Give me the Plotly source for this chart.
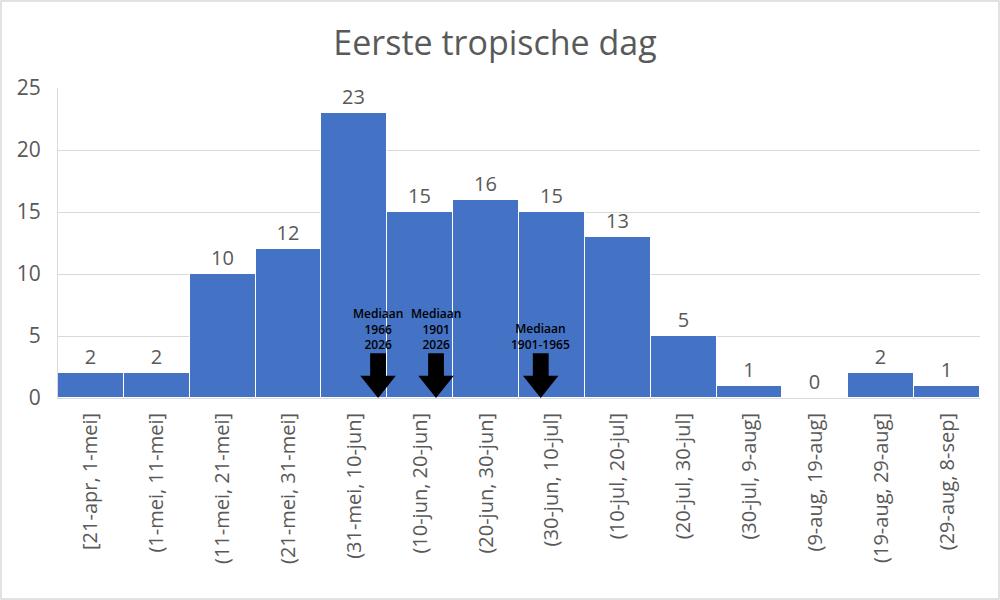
import plotly.graph_objects as go

categories = ["[21-apr, 1-mei]", "(1-mei, 11-mei]", "(11-mei, 21-mei]", "(21-mei, 31-mei]",
              "(31-mei, 10-jun]", "(10-jun, 20-jun]", "(20-jun, 30-jun]", "(30-jun, 10-jul]",
              "(10-jul, 20-jul]", "(20-jul, 30-jul]", "(30-jul, 9-aug]", "(9-aug, 19-aug]",
              "(19-aug, 29-aug]", "(29-aug, 8-sep]"]
counts = [2, 2, 10, 12, 23, 15, 16, 15, 13, 5, 1, 0, 2, 1]

median_labels = ["Mediaan<br>1966<br>2026", "Mediaan<br>1901<br>2026", "Mediaan<br>1901-1965"]
median_pos = [4.36, 5.24, 6.83]  # position in bin units

W, H = 1000, 600
L, R, T, B = 58, 20, 88, 202
pw, ph = W - L - R, H - T - B

grey = "#595959"
font = "Open Sans"

x_idx = list(range(len(categories)))

fig = go.Figure(go.Bar(
    x=x_idx, y=counts, width=1.0,
    marker=dict(color="#4472C4", line=dict(color="white", width=1)),
    text=[str(c) for c in counts], textposition="outside",
    textfont=dict(size=20, color=grey, family=font), cliponaxis=False,
))

shapes = []
annotations = []
# arrow geometry (x half-widths in bin units, y in data units)
shaft_hw, head_hw = 0.12, 0.27
shaft_top, head_top = 3.6, 1.8
for lab, p in zip(median_labels, median_pos):
    path = (f"M {p-shaft_hw},{shaft_top} L {p+shaft_hw},{shaft_top} L {p+shaft_hw},{head_top} "
            f"L {p+head_hw},{head_top} L {p},0 L {p-head_hw},{head_top} L {p-shaft_hw},{head_top} Z")
    shapes.append(dict(type="path", path=path, xref="x", yref="y",
                       fillcolor="black", line=dict(color="black", width=0)))
    annotations.append(dict(x=p, y=shaft_top, xref="x", yref="y", text=lab, showarrow=False,
                            yanchor="bottom", yshift=-2,
                            font=dict(size=12, color="black", family=font, weight=600)))

# outer border
shapes.append(dict(type="rect", xref="paper", yref="paper",
                   x0=-(L - 1) / pw, x1=1 + (R - 1) / pw, y0=-(B - 1) / ph, y1=1 + (T - 1) / ph,
                   line=dict(color="#d9d9d9", width=1.5), layer="below"))

fig.update_layout(
    width=W, height=H,
    margin=dict(l=L, r=R, t=T, b=B),
    paper_bgcolor="white", plot_bgcolor="white",
    title=dict(text="Eerste tropische dag", x=0.495, xref="container", xanchor="center",
               y=1 - 43 / H, yanchor="middle",
               font=dict(size=34, color=grey, family=font)),
    showlegend=False,
    bargap=0,
    shapes=shapes,
    annotations=annotations,
    xaxis=dict(range=[-0.5, len(categories) - 0.5], tickvals=x_idx, ticktext=categories,
               tickangle=-90, tickfont=dict(size=20, color=grey, family=font),
               showgrid=False, showline=True, linecolor="#d9d9d9", ticks="", zeroline=False,
               ticklabelstandoff=6),
    yaxis=dict(range=[0, 25], dtick=5, tickfont=dict(size=21, color=grey, family=font),
               showgrid=True, gridcolor="#d9d9d9", showline=True, linecolor="#d9d9d9",
               zeroline=False, ticks="", ticklabelstandoff=12),
)

fig.write_html("out.html", config={"displayModeBar": False},
               post_script="document.body.style.margin='0';document.body.style.overflow='hidden';")
